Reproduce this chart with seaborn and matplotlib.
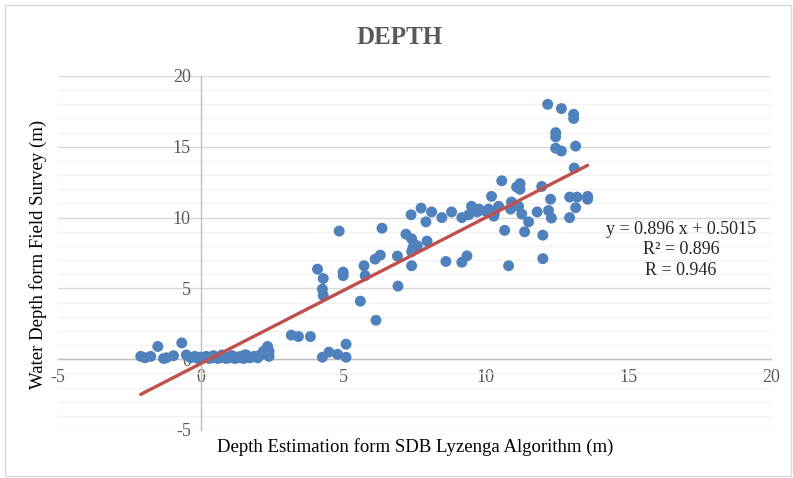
import numpy as np
import pandas as pd
import matplotlib
matplotlib.use("Agg")
import matplotlib.pyplot as plt
from matplotlib.patches import Rectangle
import seaborn as sns

sns.set_style("white")
plt.rcParams['font.family'] = ['Liberation Serif', 'DejaVu Serif']
plt.rcParams['axes.unicode_minus'] = False

# SDB Lyzenga estimate (x) vs field survey depth (y)
sdb_depth = [
    -2.1, -1.95, -1.75, -1.5, -1.3, -1.2, -0.95, -0.66, -0.5, -0.35, -0.2, -0.1,
    0.0, 0.1, 0.2, 0.3, 0.4, 0.5, 0.6, 0.7, 0.8, 0.9, 1.0, 1.1, 1.2, 1.3, 1.4,
    1.5, 1.6, 1.7, 1.8, 1.9, 2.0, 2.1, 2.2, 2.3, 2.35, 2.4, 2.4, 0.45, 0.75,
    1.25, 1.55,
    3.18, 3.43, 3.85, 4.27, 4.5, 4.8, 5.1, 5.1,
    4.1, 4.3, 4.27, 4.3, 4.86, 5.0, 5.0, 5.6, 5.73, 5.77, 6.15, 6.36, 6.12, 6.3,
    6.92, 6.9, 7.38, 7.2, 7.4, 7.45, 7.4, 7.4, 7.73, 7.94, 7.9, 8.1, 8.46, 8.6,
    8.8, 9.16, 9.16, 9.34, 9.5, 9.76, 10.0, 10.2, 10.28, 10.56, 10.66, 10.8,
    10.9, 11.08, 11.2, 11.2, 11.96, 12.27, 10.45, 10.87, 11.15, 11.26, 11.5,
    11.36, 11.8, 12.2, 12.3, 12.94, 13.2, 13.57, 13.57, 13.15, 12.94, 12.0,
    12.0, 12.17, 12.65, 13.08, 13.08, 12.45, 12.45, 12.45, 12.65, 13.15, 13.1,
    7.5, 7.6, 9.7, 9.4, 10.1, 10.3, 9.6,
]
field_depth = [
    0.2, 0.1, 0.2, 0.9, 0.05, 0.1, 0.25, 1.15, 0.3, 0.1, 0.2, 0.05,
    0.15, 0.1, 0.2, 0.05, 0.1, 0.15, 0.05, 0.1, 0.2, 0.05, 0.1, 0.25, 0.05, 0.1,
    0.2, 0.05, 0.3, 0.1, 0.15, 0.2, 0.1, 0.3, 0.55, 0.4, 0.9, 0.55, 0.2, 0.25,
    0.3, 0.15, 0.3,
    1.7, 1.6, 1.6, 0.14, 0.5, 0.35, 1.06, 0.14,
    6.36, 5.7, 4.95, 4.5, 9.05, 6.15, 5.9, 4.1, 6.6, 5.9, 2.75, 9.25, 7.07, 7.35,
    5.16, 7.28, 10.2, 8.83, 8.5, 7.9, 7.6, 6.6, 10.67, 8.34, 9.7, 10.4, 10.0,
    6.9, 10.4, 10.0, 6.85, 7.3, 10.8, 10.6, 10.45, 11.5, 10.1, 12.6, 9.1, 6.6,
    11.1, 12.16, 12.4, 12.0, 12.2, 11.3, 10.8, 10.6, 10.8, 10.25, 9.7,
    9.0, 10.4, 10.5, 9.97, 11.45, 11.45, 11.5, 11.3, 10.7, 10.0, 8.76,
    7.1, 18.0, 17.7, 17.3, 17.0, 16.0, 15.7, 14.9, 14.7, 15.05, 13.5,
    8.1, 8.0, 10.4, 10.2, 10.6, 10.3, 10.5,
]
eq_text = "y = 0.896 x + 0.5015\nR\u00b2 = 0.896\nR = 0.946"

df = pd.DataFrame({'sdb': sdb_depth, 'field': field_depth})

# linear trendline, spanning the data range like Excel does
slope, intercept = np.polyfit(df['sdb'], df['field'], 1)
trend = pd.DataFrame({'sdb': [df['sdb'].min(), df['sdb'].max()]})
trend['field'] = slope * trend['sdb'] + intercept

fig = plt.figure(figsize=(7.93, 4.78), dpi=100)
ax = fig.add_axes([58 / 793, 1 - 430 / 478, 713 / 793, 354 / 478])

sns.scatterplot(data=df, x='sdb', y='field', ax=ax, color='#4F81BD',
                s=62, edgecolor='none', zorder=3)
sns.lineplot(data=trend, x='sdb', y='field', ax=ax, color='#C0504D',
             linewidth=2.4, zorder=4)

ax.set_xlim(-5, 20)
ax.set_ylim(-5, 20)
ax.set_xticks([-5, 0, 5, 10, 15, 20])
ax.set_yticks([-5, 0, 5, 10, 15, 20])
ax.set_yticks(np.arange(-5, 21, 1), minor=True)
ax.yaxis.grid(True, which='major', color='#D9D9D9', linewidth=1.0, zorder=0)
ax.yaxis.grid(True, which='minor', color='#F2F2F2', linewidth=1.0, zorder=0)
ax.xaxis.grid(False)
ax.set_axisbelow(True)

for side in ['top', 'right']:
    ax.spines[side].set_visible(False)
ax.spines['left'].set_position(('data', 0))
ax.spines['bottom'].set_position(('data', 0))
for side in ['left', 'bottom']:
    ax.spines[side].set_color('#BFBFBF')
    ax.spines[side].set_linewidth(1.0)
ax.tick_params(axis='both', which='major', direction='out', length=5,
               color='#BFBFBF', labelcolor='#595959', labelsize=13, pad=2)
ax.tick_params(axis='y', which='minor', length=0)

ax.set_xlabel('')
ax.set_ylabel('')
fig.text(415 / 793, 1 - 447 / 478, 'Depth Estimation form SDB Lyzenga Algorithm (m)',
         ha='center', va='center', fontsize=13.5, color='#000000')
fig.text(38 / 793, 1 - 254 / 478, 'Water Depth form Field Survey (m)',
         ha='center', va='center', rotation=90, fontsize=13.5, color='#000000')
fig.text(400 / 793, 1 - 38 / 478, 'DEPTH', ha='center', va='center',
         fontsize=18, fontweight='bold', color='#595959')

ax.text(681 / 793, 1 - 250 / 478, eq_text, transform=fig.transFigure,
        ha='center', va='center', fontsize=13, linespacing=1.3)

fig.patches.append(Rectangle((5 / 793, 2 / 478), 786 / 793, 471 / 478,
                             transform=fig.transFigure, fill=False,
                             edgecolor='#D9D9D9', linewidth=1.0))

fig.savefig('out.png', dpi=100)
